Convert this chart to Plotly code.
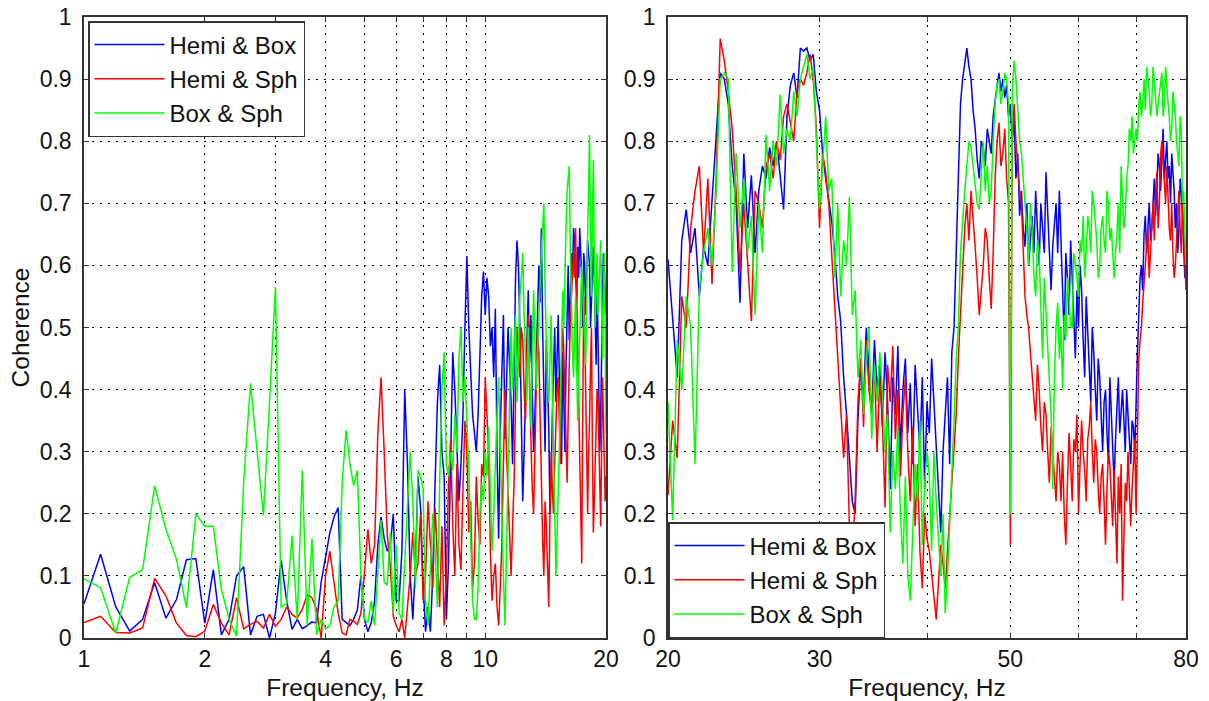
import numpy as np
import plotly.graph_objects as go

# ---------------- frequency grids ----------------
freq_left = np.round(np.arange(1.0, 20.001, 0.1), 2)     # 1-20 Hz, 0.1 Hz bins
freq_right = np.round(np.arange(20.0, 80.001, 0.25), 2)  # 20-80 Hz, 0.25 Hz bins

# ---------------- coherence, 1-20 Hz ----------------
hemi_box_left = [
    # 1.0 - 6.0 Hz
    0.055, 0.135, 0.05, 0.011, 0.03, 0.089, 0.032, 0.062, 0.126, 0.128,
    0.024, 0.11, 0.005, 0.03, 0.10, 0.115, 0.005, 0.035, 0.038, 0.0,
    0.04, 0.125, 0.06, 0.014, 0.03, 0.015, 0.02, 0.026, 0.024, 0.09,
    0.13, 0.17, 0.195, 0.21, 0.03, 0.025, 0.02, 0.03, 0.045, 0.10,
    0.03, 0.01, 0.025, 0.06, 0.15, 0.195, 0.16, 0.14, 0.15, 0.20,
    0.06,
    # 6.1 - 10.0 Hz
    0.06, 0.14, 0.40, 0.28, 0.10, 0.03, 0.12, 0.26, 0.21, 0.09,
    0.01, 0.05, 0.01, 0.10, 0.25, 0.38, 0.44, 0.30, 0.26, 0.03,
    0.12, 0.32, 0.46, 0.40, 0.30, 0.22, 0.28, 0.36, 0.50, 0.615,
    0.50, 0.42, 0.36, 0.33, 0.30, 0.36, 0.44, 0.55, 0.59, 0.52,
    # 10.1 - 20.0 Hz
    0.58, 0.55, 0.47, 0.50, 0.42, 0.53, 0.30, 0.16, 0.33, 0.45,
    0.52, 0.32, 0.40, 0.50, 0.44, 0.38, 0.28, 0.47, 0.58, 0.64,
    0.60, 0.50, 0.36, 0.22, 0.30, 0.40, 0.48, 0.56, 0.44, 0.52,
    0.40, 0.30, 0.36, 0.45, 0.52, 0.60, 0.54, 0.66, 0.50, 0.40,
    0.30, 0.48, 0.42, 0.34, 0.20, 0.25, 0.36, 0.44, 0.50, 0.38,
    0.46, 0.52, 0.42, 0.35, 0.28, 0.46, 0.40, 0.30, 0.44, 0.55,
    0.60, 0.48, 0.56, 0.62, 0.58, 0.66, 0.64, 0.60, 0.54, 0.63,
    0.58, 0.66, 0.62, 0.58, 0.50, 0.62, 0.60, 0.52, 0.58, 0.64,
    0.62, 0.60, 0.50, 0.55, 0.60, 0.63, 0.58, 0.50, 0.44, 0.58,
    0.50, 0.42, 0.30, 0.36, 0.48, 0.55, 0.62, 0.60, 0.56, 0.52,
]
hemi_sph_left = [
    0.025, 0.035, 0.009, 0.008, 0.016, 0.096, 0.068, 0.024, 0.004, 0.002,
    0.011, 0.054, 0.024, 0.005, 0.065, 0.015, 0.022, 0.027, 0.016, 0.038,
    0.019, 0.03, 0.05, 0.038, 0.032, 0.046, 0.07, 0.065, 0.046, 0.0,
    0.10, 0.14, 0.089, 0.04, 0.008, 0.005, 0.03, 0.027, 0.022, 0.04,
    0.105, 0.175, 0.12, 0.15, 0.33, 0.42, 0.30, 0.165, 0.115, 0.035,
    0.02,
    0.01, 0.03, 0.0, 0.05, 0.10, 0.17, 0.10, 0.12, 0.20, 0.06,
    0.10, 0.22, 0.15, 0.08, 0.21, 0.12, 0.05, 0.18, 0.02, 0.10,
    0.25, 0.32, 0.18, 0.10, 0.28, 0.15, 0.11, 0.24, 0.35, 0.30,
    0.17, 0.22, 0.08, 0.12, 0.26, 0.19, 0.15, 0.28, 0.26, 0.42,
    0.36, 0.30, 0.14, 0.06, 0.10, 0.12, 0.05, 0.02, 0.08, 0.15,
    0.28, 0.40, 0.30, 0.22, 0.14, 0.10, 0.18, 0.25, 0.38, 0.50,
    0.45, 0.42, 0.50, 0.48, 0.40, 0.35, 0.46, 0.52, 0.40, 0.30,
    0.24, 0.20, 0.32, 0.40, 0.50, 0.46, 0.34, 0.25, 0.16, 0.10,
    0.22, 0.18, 0.10, 0.05, 0.20, 0.30, 0.24, 0.20, 0.28, 0.35,
    0.40, 0.42, 0.34, 0.28, 0.44, 0.50, 0.46, 0.38, 0.30, 0.25,
    0.36, 0.45, 0.52, 0.55, 0.60, 0.62, 0.58, 0.66, 0.56, 0.48,
    0.40, 0.30, 0.20, 0.12, 0.36, 0.55, 0.50, 0.40, 0.28, 0.20,
    0.30, 0.35, 0.44, 0.50, 0.30, 0.17, 0.22, 0.28, 0.36, 0.40,
    0.38, 0.33, 0.25, 0.18, 0.30, 0.42, 0.36, 0.30, 0.22, 0.26,
]
box_sph_left = [
    0.095, 0.081, 0.008, 0.098, 0.11, 0.245, 0.175, 0.127, 0.049, 0.20,
    0.18, 0.18, 0.078, 0.03, 0.003, 0.25, 0.41, 0.30, 0.197, 0.38,
    0.565, 0.05, 0.055, 0.165, 0.03, 0.27, 0.02, 0.16, 0.005, 0.03,
    0.015, 0.02, 0.05, 0.06, 0.25, 0.335, 0.28, 0.245, 0.27, 0.10,
    0.03, 0.025, 0.06, 0.02, 0.11, 0.19, 0.09, 0.085, 0.17, 0.04,
    0.15,
    0.04, 0.03, 0.12, 0.20, 0.30, 0.22, 0.08, 0.27, 0.26, 0.24,
    0.06, 0.02, 0.10, 0.20, 0.14, 0.05, 0.25, 0.40, 0.46, 0.28,
    0.26, 0.30, 0.27, 0.36, 0.30, 0.45, 0.50, 0.38, 0.42, 0.35,
    0.28, 0.16, 0.06, 0.03, 0.03, 0.08, 0.20, 0.25, 0.22, 0.30,
    0.26, 0.34, 0.22, 0.14, 0.20, 0.30, 0.36, 0.42, 0.30, 0.20,
    0.10, 0.02, 0.14, 0.30, 0.42, 0.50, 0.40, 0.45, 0.52, 0.38,
    0.46, 0.55, 0.58, 0.62, 0.52, 0.45, 0.38, 0.50, 0.42, 0.34,
    0.46, 0.56, 0.48, 0.40, 0.46, 0.52, 0.58, 0.62, 0.66, 0.70,
    0.56, 0.45, 0.40, 0.38, 0.46, 0.52, 0.40, 0.30, 0.18, 0.10,
    0.16, 0.22, 0.30, 0.40, 0.48, 0.56, 0.50, 0.60, 0.66, 0.72,
    0.74, 0.76, 0.62, 0.50, 0.46, 0.42, 0.50, 0.55, 0.44, 0.35,
    0.42, 0.48, 0.55, 0.60, 0.56, 0.52, 0.48, 0.44, 0.56, 0.66,
    0.74, 0.81, 0.66, 0.55, 0.68, 0.77, 0.62, 0.50, 0.56, 0.62,
    0.52, 0.58, 0.60, 0.64, 0.52, 0.45, 0.54, 0.62, 0.50, 0.33,
]

# ---------------- coherence, 20-80 Hz ----------------
hemi_box_right = [
    # 20.00 - 40.00 Hz
    0.61, 0.52, 0.42, 0.64, 0.69, 0.62, 0.66, 0.55, 0.63, 0.60,
    0.70, 0.80, 0.91, 0.90, 0.86, 0.76, 0.70, 0.54, 0.78, 0.66,
    0.745, 0.62, 0.72, 0.76, 0.74, 0.79, 0.76, 0.80, 0.74, 0.69,
    0.84, 0.89, 0.91, 0.87, 0.95, 0.945, 0.95, 0.93, 0.94, 0.88,
    0.85, 0.78, 0.74, 0.70, 0.67, 0.62, 0.55, 0.51, 0.42, 0.36,
    0.28, 0.22, 0.20, 0.35, 0.44, 0.38, 0.50, 0.42, 0.36, 0.48,
    0.40, 0.44, 0.34, 0.46, 0.38, 0.24, 0.42, 0.36, 0.47, 0.30,
    0.40, 0.45, 0.33, 0.41, 0.28, 0.44, 0.37, 0.30, 0.42, 0.24,
    0.38,
    # 40.25 - 80.00 Hz
    0.33, 0.45, 0.38, 0.30, 0.24, 0.17, 0.30, 0.36,
    0.42, 0.28, 0.46, 0.50, 0.62, 0.75, 0.86, 0.90,
    0.93, 0.95, 0.92, 0.90, 0.85, 0.82, 0.77, 0.74,
    0.80, 0.79, 0.76, 0.82, 0.80, 0.78, 0.84, 0.87,
    0.89, 0.91, 0.88, 0.90, 0.87, 0.89, 0.84, 0.86,
    0.80, 0.84, 0.74, 0.78, 0.68, 0.72, 0.66, 0.63,
    0.70, 0.60, 0.64, 0.68, 0.62, 0.72, 0.66, 0.60,
    0.70, 0.66, 0.62, 0.75, 0.68, 0.60, 0.56, 0.63,
    0.66, 0.70, 0.62, 0.72, 0.64, 0.55, 0.48, 0.62,
    0.58, 0.52, 0.64, 0.58, 0.50, 0.45, 0.56, 0.50,
    0.60, 0.56, 0.48, 0.42, 0.55, 0.50, 0.44, 0.38,
    0.50, 0.46, 0.40, 0.35, 0.45, 0.42, 0.36, 0.30,
    0.38, 0.40, 0.33, 0.28, 0.42, 0.36, 0.30, 0.25,
    0.32, 0.38, 0.42, 0.33, 0.37, 0.40, 0.35, 0.30,
    0.40, 0.36, 0.31, 0.28, 0.35, 0.34, 0.30, 0.40,
    0.46, 0.52, 0.58, 0.60, 0.56, 0.65, 0.68, 0.62,
    0.66, 0.70, 0.64, 0.66, 0.70, 0.74, 0.68, 0.72,
    0.78, 0.76, 0.72, 0.78, 0.82, 0.74, 0.78, 0.80,
    0.74, 0.76, 0.70, 0.78, 0.75, 0.72, 0.66, 0.70,
    0.62, 0.66, 0.74, 0.72, 0.68, 0.64, 0.58, 0.60,
]
hemi_sph_right = [
    0.23, 0.35, 0.29, 0.55, 0.50, 0.66, 0.72, 0.76, 0.62, 0.74,
    0.57, 0.74, 0.965, 0.93, 0.88, 0.82, 0.72, 0.59, 0.70, 0.60,
    0.51, 0.72, 0.70, 0.66, 0.76, 0.78, 0.74, 0.80, 0.77, 0.84,
    0.86, 0.83, 0.80, 0.88, 0.90, 0.89, 0.91, 0.94, 0.90, 0.82,
    0.66, 0.78, 0.75, 0.70, 0.62, 0.53, 0.45, 0.38, 0.29, 0.36,
    0.18, 0.13, 0.22, 0.38, 0.45, 0.34, 0.48, 0.40, 0.36, 0.44,
    0.30, 0.42, 0.35, 0.21, 0.44, 0.38, 0.47, 0.32, 0.40, 0.26,
    0.36, 0.42, 0.30, 0.22, 0.34, 0.18, 0.28, 0.14, 0.08, 0.20,
    0.16,
    0.14, 0.10, 0.06, 0.03, 0.09, 0.15, 0.12, 0.08,
    0.14, 0.20, 0.26, 0.30, 0.36, 0.45, 0.52, 0.60,
    0.66, 0.70, 0.64, 0.72, 0.68, 0.63, 0.58, 0.52,
    0.56, 0.60, 0.66, 0.64, 0.58, 0.53, 0.62, 0.74,
    0.80, 0.83, 0.76, 0.78, 0.82, 0.74, 0.70, 0.15,
    0.80, 0.86, 0.80, 0.76, 0.72, 0.70, 0.62, 0.55,
    0.52, 0.50, 0.46, 0.42, 0.38, 0.35, 0.44, 0.40,
    0.34, 0.30, 0.38, 0.36, 0.30, 0.25, 0.34, 0.30,
    0.27, 0.22, 0.30, 0.28, 0.22, 0.30, 0.20, 0.15,
    0.25, 0.33, 0.28, 0.22, 0.32, 0.30, 0.36, 0.20,
    0.28, 0.35, 0.30, 0.27, 0.22, 0.32, 0.34, 0.38,
    0.30, 0.25, 0.32, 0.30, 0.24, 0.20, 0.26, 0.28,
    0.22, 0.15, 0.24, 0.30, 0.28, 0.22, 0.18, 0.27,
    0.20, 0.12, 0.26, 0.20, 0.28, 0.06, 0.16, 0.25,
    0.22, 0.30, 0.24, 0.18, 0.24, 0.28, 0.32, 0.20,
    0.36, 0.45, 0.48, 0.50, 0.54, 0.58, 0.60, 0.63,
    0.66, 0.58, 0.62, 0.68, 0.70, 0.64, 0.72, 0.75,
    0.66, 0.70, 0.78, 0.80, 0.76, 0.72, 0.70, 0.76,
    0.70, 0.66, 0.64, 0.70, 0.62, 0.58, 0.60, 0.64,
    0.70, 0.72, 0.66, 0.62, 0.70, 0.66, 0.60, 0.56,
]
box_sph_right = [
    0.38, 0.19, 0.48, 0.40, 0.55, 0.50, 0.28, 0.56, 0.62, 0.66,
    0.60, 0.72, 0.90, 0.91, 0.90, 0.59, 0.78, 0.66, 0.74, 0.62,
    0.68, 0.52, 0.70, 0.62, 0.81, 0.72, 0.80, 0.76, 0.875, 0.78,
    0.82, 0.80, 0.88, 0.84, 0.90, 0.92, 0.94, 0.90, 0.92, 0.80,
    0.69, 0.76, 0.84, 0.72, 0.74, 0.58, 0.70, 0.55, 0.64, 0.60,
    0.71, 0.52, 0.56, 0.42, 0.48, 0.36, 0.45, 0.50, 0.32, 0.44,
    0.38, 0.46, 0.40, 0.30, 0.36, 0.17, 0.30, 0.24, 0.34, 0.20,
    0.12, 0.26, 0.10, 0.06, 0.18, 0.28, 0.22, 0.35, 0.15, 0.25,
    0.30,
    0.26, 0.14, 0.30, 0.22, 0.16, 0.10, 0.20, 0.04,
    0.10, 0.18, 0.28, 0.35, 0.45, 0.50, 0.62, 0.68,
    0.72, 0.76, 0.80, 0.79, 0.76, 0.74, 0.70, 0.69,
    0.75, 0.80, 0.72, 0.76, 0.70, 0.72, 0.80, 0.86,
    0.89, 0.90, 0.86, 0.88, 0.91, 0.90, 0.86, 0.20,
    0.88, 0.93, 0.90, 0.85, 0.80, 0.78, 0.74, 0.70,
    0.66, 0.60, 0.70, 0.66, 0.58, 0.55, 0.64, 0.62,
    0.55, 0.45, 0.58, 0.52, 0.46, 0.40, 0.36, 0.24,
    0.42, 0.50, 0.54, 0.45, 0.50, 0.40, 0.52, 0.48,
    0.58, 0.55, 0.50, 0.50, 0.62, 0.60, 0.58, 0.55,
    0.64, 0.62, 0.68, 0.58, 0.62, 0.68, 0.66, 0.62,
    0.72, 0.70, 0.66, 0.64, 0.58, 0.60, 0.66, 0.68,
    0.64, 0.62, 0.72, 0.70, 0.64, 0.66, 0.62, 0.58,
    0.62, 0.65, 0.70, 0.62, 0.76, 0.72, 0.66, 0.68,
    0.74, 0.76, 0.82, 0.80, 0.84, 0.78, 0.80, 0.82,
    0.80, 0.86, 0.88, 0.84, 0.86, 0.90, 0.85, 0.92,
    0.90, 0.88, 0.84, 0.86, 0.92, 0.89, 0.86, 0.84,
    0.86, 0.88, 0.90, 0.91, 0.84, 0.86, 0.92, 0.88,
    0.86, 0.84, 0.80, 0.82, 0.88, 0.86, 0.84, 0.80,
    0.78, 0.76, 0.84, 0.82, 0.70, 0.72, 0.66, 0.60,
]

for arr in (hemi_box_left, hemi_sph_left, box_sph_left):
    assert len(arr) == len(freq_left), len(arr)
for arr in (hemi_box_right, hemi_sph_right, box_sph_right):
    assert len(arr) == len(freq_right), len(arr)

series_names = ["Hemi & Box", "Hemi & Sph", "Box & Sph"]
series_colors = ["#0000FF", "#FF0000", "#00FF00"]

left_ticks = [1, 2, 3, 4, 5, 6, 7, 8, 9, 10, 20]
left_labels = ["1", "2", "", "4", "", "6", "", "8", "", "10", "20"]
right_ticks = [20, 30, 40, 50, 60, 70, 80]
right_labels = ["20", "30", "", "50", "", "", "80"]
y_ticks = [round(0.1 * i, 1) for i in range(11)]
y_labels = ["0", "0.1", "0.2", "0.3", "0.4", "0.5", "0.6", "0.7", "0.8", "0.9", "1"]

W, H = 1209, 701
FONT = "Liberation Sans, Arial, Helvetica, sans-serif"
TITLE_FONT = dict(size=24.5, family=FONT, color="#111111")

fig = go.Figure()

left_sets = [hemi_box_left, hemi_sph_left, box_sph_left]
right_sets = [hemi_box_right, hemi_sph_right, box_sph_right]
for name, color, vals in zip(series_names, series_colors, left_sets):
    fig.add_trace(go.Scatter(x=freq_left, y=vals, mode="lines", name=name,
                             line=dict(color=color, width=1.5),
                             xaxis="x", yaxis="y", legend="legend",
                             legendgroup="L" + name))
for name, color, vals in zip(series_names, series_colors, right_sets):
    fig.add_trace(go.Scatter(x=freq_right, y=vals, mode="lines", name=name,
                             line=dict(color=color, width=1.5),
                             xaxis="x2", yaxis="y2", legend="legend2",
                             legendgroup="R" + name))

grid = dict(showgrid=True, gridcolor="#000000", gridwidth=1, griddash="2px,6px")
frame = dict(showline=True, linecolor="#333333", linewidth=1.5, mirror="ticks",
             ticks="inside", ticklen=5, tickcolor="#333333", zeroline=False,
             automargin=False,
             tickfont=dict(size=23, color="#111111", family=FONT))

y_dom = [1 - 638 / H, 1 - 17 / H]
legend_style = dict(bgcolor="white", bordercolor="#333333", borderwidth=1.5,
                    font=dict(size=24, family=FONT, color="#111111"),
                    itemwidth=70, tracegroupgap=5, traceorder="normal")

fig.update_layout(
    width=W, height=H,
    margin=dict(l=0, r=0, t=0, b=0, autoexpand=False),
    paper_bgcolor="white", plot_bgcolor="white",
    font=dict(family=FONT, color="#111111", size=23),
    xaxis=dict(type="log", domain=[84 / W, 606 / W],
               range=[np.log10(1), np.log10(20)],
               tickmode="array", tickvals=left_ticks, ticktext=left_labels,
               ticklabelstandoff=0,
               title=dict(text="Frequency, Hz", standoff=9, font=TITLE_FONT),
               anchor="y", **grid, **frame),
    yaxis=dict(domain=y_dom, range=[0, 1], tickmode="array",
               tickvals=y_ticks, ticktext=y_labels, ticklabelstandoff=6,
               title=dict(text="Coherence", standoff=3, font=TITLE_FONT),
               anchor="x", **grid, **frame),
    xaxis2=dict(type="log", domain=[668 / W, 1186 / W],
                range=[np.log10(20), np.log10(80)],
                tickmode="array", tickvals=right_ticks, ticktext=right_labels,
                ticklabelstandoff=0,
                title=dict(text="Frequency, Hz", standoff=9, font=TITLE_FONT),
                anchor="y2", **grid, **frame),
    yaxis2=dict(domain=y_dom, range=[0, 1], tickmode="array",
                tickvals=y_ticks, ticktext=y_labels, ticklabelstandoff=6,
                anchor="x2", **grid, **frame),
    legend=dict(x=88 / W, y=1 - 21 / H, xanchor="left", yanchor="top",
                **legend_style),
    legend2=dict(x=668 / W, y=1 - 638 / H, xanchor="left", yanchor="bottom",
                 **legend_style),
)

fig.write_html("out.html")
